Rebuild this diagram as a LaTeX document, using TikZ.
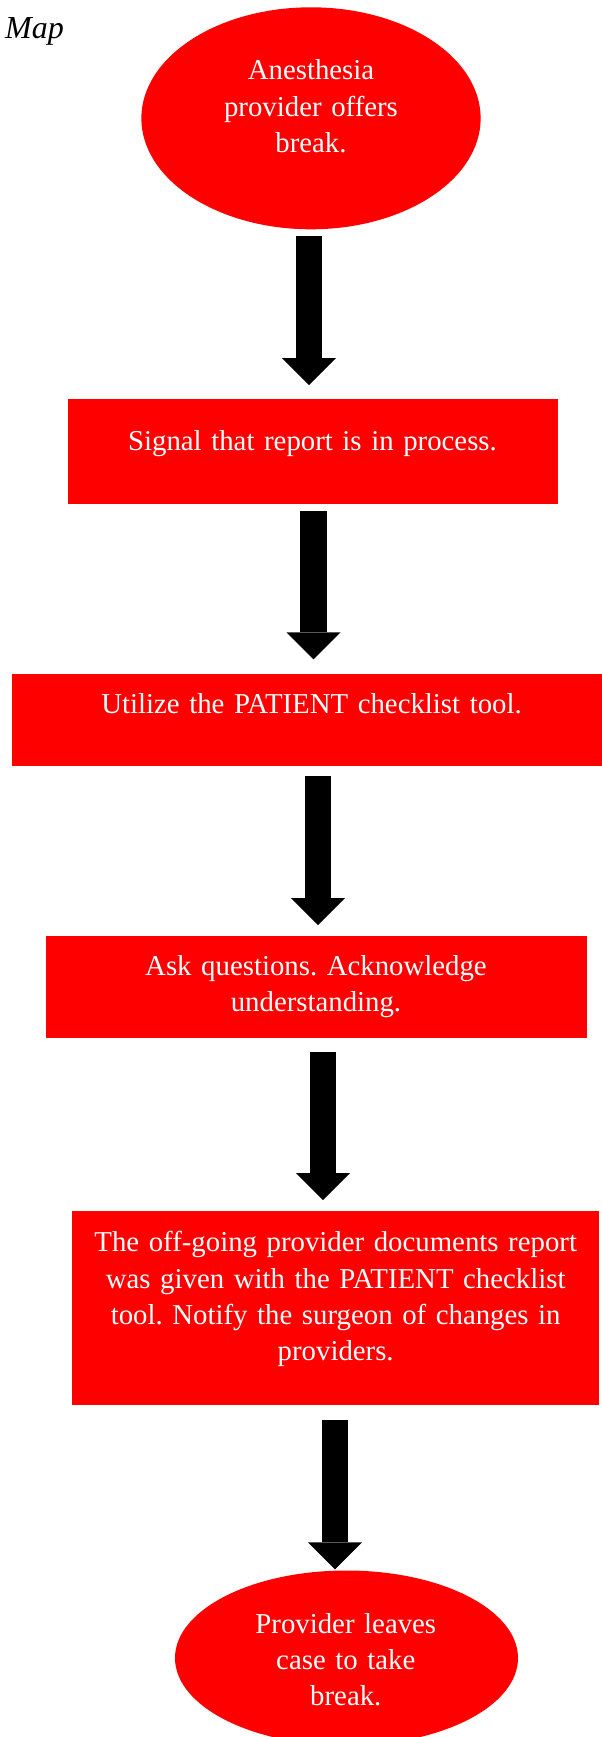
\documentclass[tikz,border=0pt]{standalone}
\usepackage{fontspec}
\setmainfont{Liberation Serif}
\frenchspacing
\usetikzlibrary{shapes.geometric,arrows.meta}
\definecolor{flowred}{RGB}{255,0,0}
\begin{document}
\begin{tikzpicture}[x=1pt,y=-1pt,
  box/.style={rectangle, fill=flowred, draw=none, inner sep=0pt, outer sep=0pt},
  oval/.style={ellipse, fill=flowred, draw=none, inner sep=0pt, outer sep=0pt},
  txt/.style={text=white, align=center, text width=500pt, inner sep=0pt, anchor=base,
    font=\fontsize{28.8}{36.3}\selectfont},
  flowarrow/.style={draw=black, line width=26.5pt,
    -{Triangle[length=27pt,width=54pt,line width=0pt]}}]
\clip (0,0) rectangle (602,1737);
\fill[white] (0,0) rectangle (602,1737);

% heading
\node[anchor=base west, inner sep=0pt, font=\fontsize{32}{36}\selectfont\itshape] (title) at (5,38.3) {Map};

% shapes of the flow
\node[oval, minimum width=339.3pt, minimum height=222pt] (e1) at (311,118.3) {};
\node[box, minimum width=490pt, minimum height=105pt] (r1) at (312.7,451.5) {};
\node[box, minimum width=590.7pt, minimum height=91.7pt] (r2) at (307.65,719.85) {};
\node[box, minimum width=540.5pt, minimum height=102.3pt] (r3) at (316.25,987.15) {};
\node[box, minimum width=526.9pt, minimum height=194.3pt] (r4) at (335.75,1307.85) {};
\node[oval, minimum width=343pt, minimum height=175pt] (e2) at (346.5,1658) {};

% texts, placed by the baseline of their first line
\node[txt] (t1) at (311,80) {Anesthesia\\provider offers\\break.};
\node[txt] (t2) at (312.5,450.7) {Signal that report is in process.};
\node[txt] (t3) at (311.5,713.3) {Utilize the PATIENT checklist tool.};
\node[txt] (t4) at (316,975) {Ask questions. Acknowledge\\understanding.};
\node[txt] (t5) at (335.7,1251.7) {The off-going provider documents report\\was given with the PATIENT checklist\\tool. Notify the surgeon of changes in\\providers.};
\node[txt] (t6) at (345.8,1633) {Provider leaves\\case to take\\break.};

% block arrows between the steps
\coordinate (a1s) at (309,236);   \coordinate (a1e) at (309,385);
\coordinate (a2s) at (313.5,510.7); \coordinate (a2e) at (313.5,659.3);
\coordinate (a3s) at (318,776);   \coordinate (a3e) at (318,925);
\coordinate (a4s) at (323,1051.7); \coordinate (a4e) at (323,1200);
\coordinate (a5s) at (335,1420);  \coordinate (a5e) at (335,1569.3);
\draw[flowarrow] (a1s) -- (a1e);
\draw[flowarrow] (a2s) -- (a2e);
\draw[flowarrow] (a3s) -- (a3e);
\draw[flowarrow] (a4s) -- (a4e);
\draw[flowarrow] (a5s) -- (a5e);
\end{tikzpicture}
\end{document}
